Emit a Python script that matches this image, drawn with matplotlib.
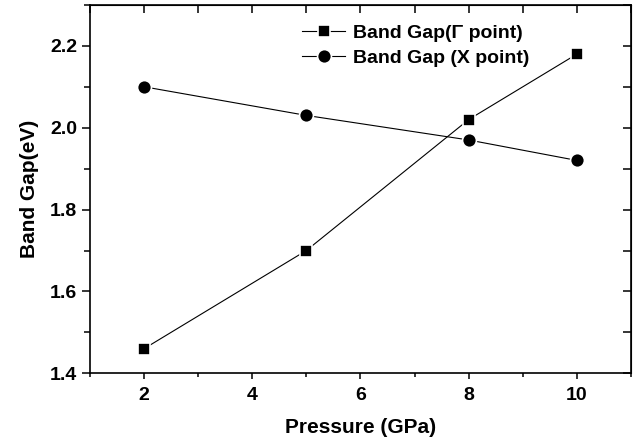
import matplotlib
matplotlib.use("Agg")
import matplotlib.pyplot as plt
from matplotlib.ticker import MultipleLocator, FormatStrFormatter

pressure = [2, 5, 8, 10]
gap_gamma = [1.46, 1.70, 2.02, 2.18]
gap_x = [2.10, 2.03, 1.97, 1.92]

plt.rcParams["font.family"] = ["Liberation Sans", "DejaVu Sans"]
plt.rcParams["font.weight"] = "bold"

fig = plt.figure(figsize=(6.33, 4.46), dpi=100)
ax = fig.add_axes([0.142, 0.163, 0.855, 0.826])

ax.plot(pressure, gap_gamma, color="black", lw=0.8, marker="s", ms=8,
        mfc="black", mec="white", mew=1.2, label="Band Gap(\u0393 point)")
ax.plot(pressure, gap_x, color="black", lw=0.8, marker="o", ms=10,
        mfc="black", mec="white", mew=1.2, label="Band Gap (X point)")

ax.set_xlim(1, 11)
ax.set_ylim(1.4, 2.3)
ax.xaxis.set_major_locator(MultipleLocator(2))
ax.xaxis.set_minor_locator(MultipleLocator(1))
ax.yaxis.set_major_locator(MultipleLocator(0.2))
ax.yaxis.set_minor_locator(MultipleLocator(0.1))
ax.yaxis.set_major_formatter(FormatStrFormatter("%.1f"))

for s in ax.spines.values():
    s.set_linewidth(1.2)
ax.tick_params(which="both", direction="out", width=1.1, labelsize=14)
ax.tick_params(axis="y", which="major", length=6, pad=3)
ax.tick_params(axis="y", which="minor", length=4)
ax.tick_params(axis="x", which="major", length=4, pad=6)
ax.tick_params(axis="x", which="minor", length=3)

# mirrored ticks on top/right pointing inward
top = ax.secondary_xaxis("top")
top.set_xticks(range(1, 12))
top.tick_params(direction="in", length=6, width=1.1, labeltop=False)
right = ax.secondary_yaxis("right")
right.set_yticks([1.4 + 0.1 * i for i in range(10)])
right.tick_params(direction="in", length=6, width=1.1, labelright=False)

ax.set_xlabel("Pressure (GPa)", fontsize=15, fontweight="bold", labelpad=10)
ax.set_ylabel("Band Gap(eV)", fontsize=15, fontweight="bold", labelpad=8)

ax.legend(loc="upper left", bbox_to_anchor=(0.36, 0.995), frameon=False,
          handlelength=2.2, numpoints=1, borderpad=0.4,
          labelspacing=0.4, handletextpad=0.4,
          prop={"weight": "bold", "size": 14})

fig.savefig("out.png", dpi=100)
